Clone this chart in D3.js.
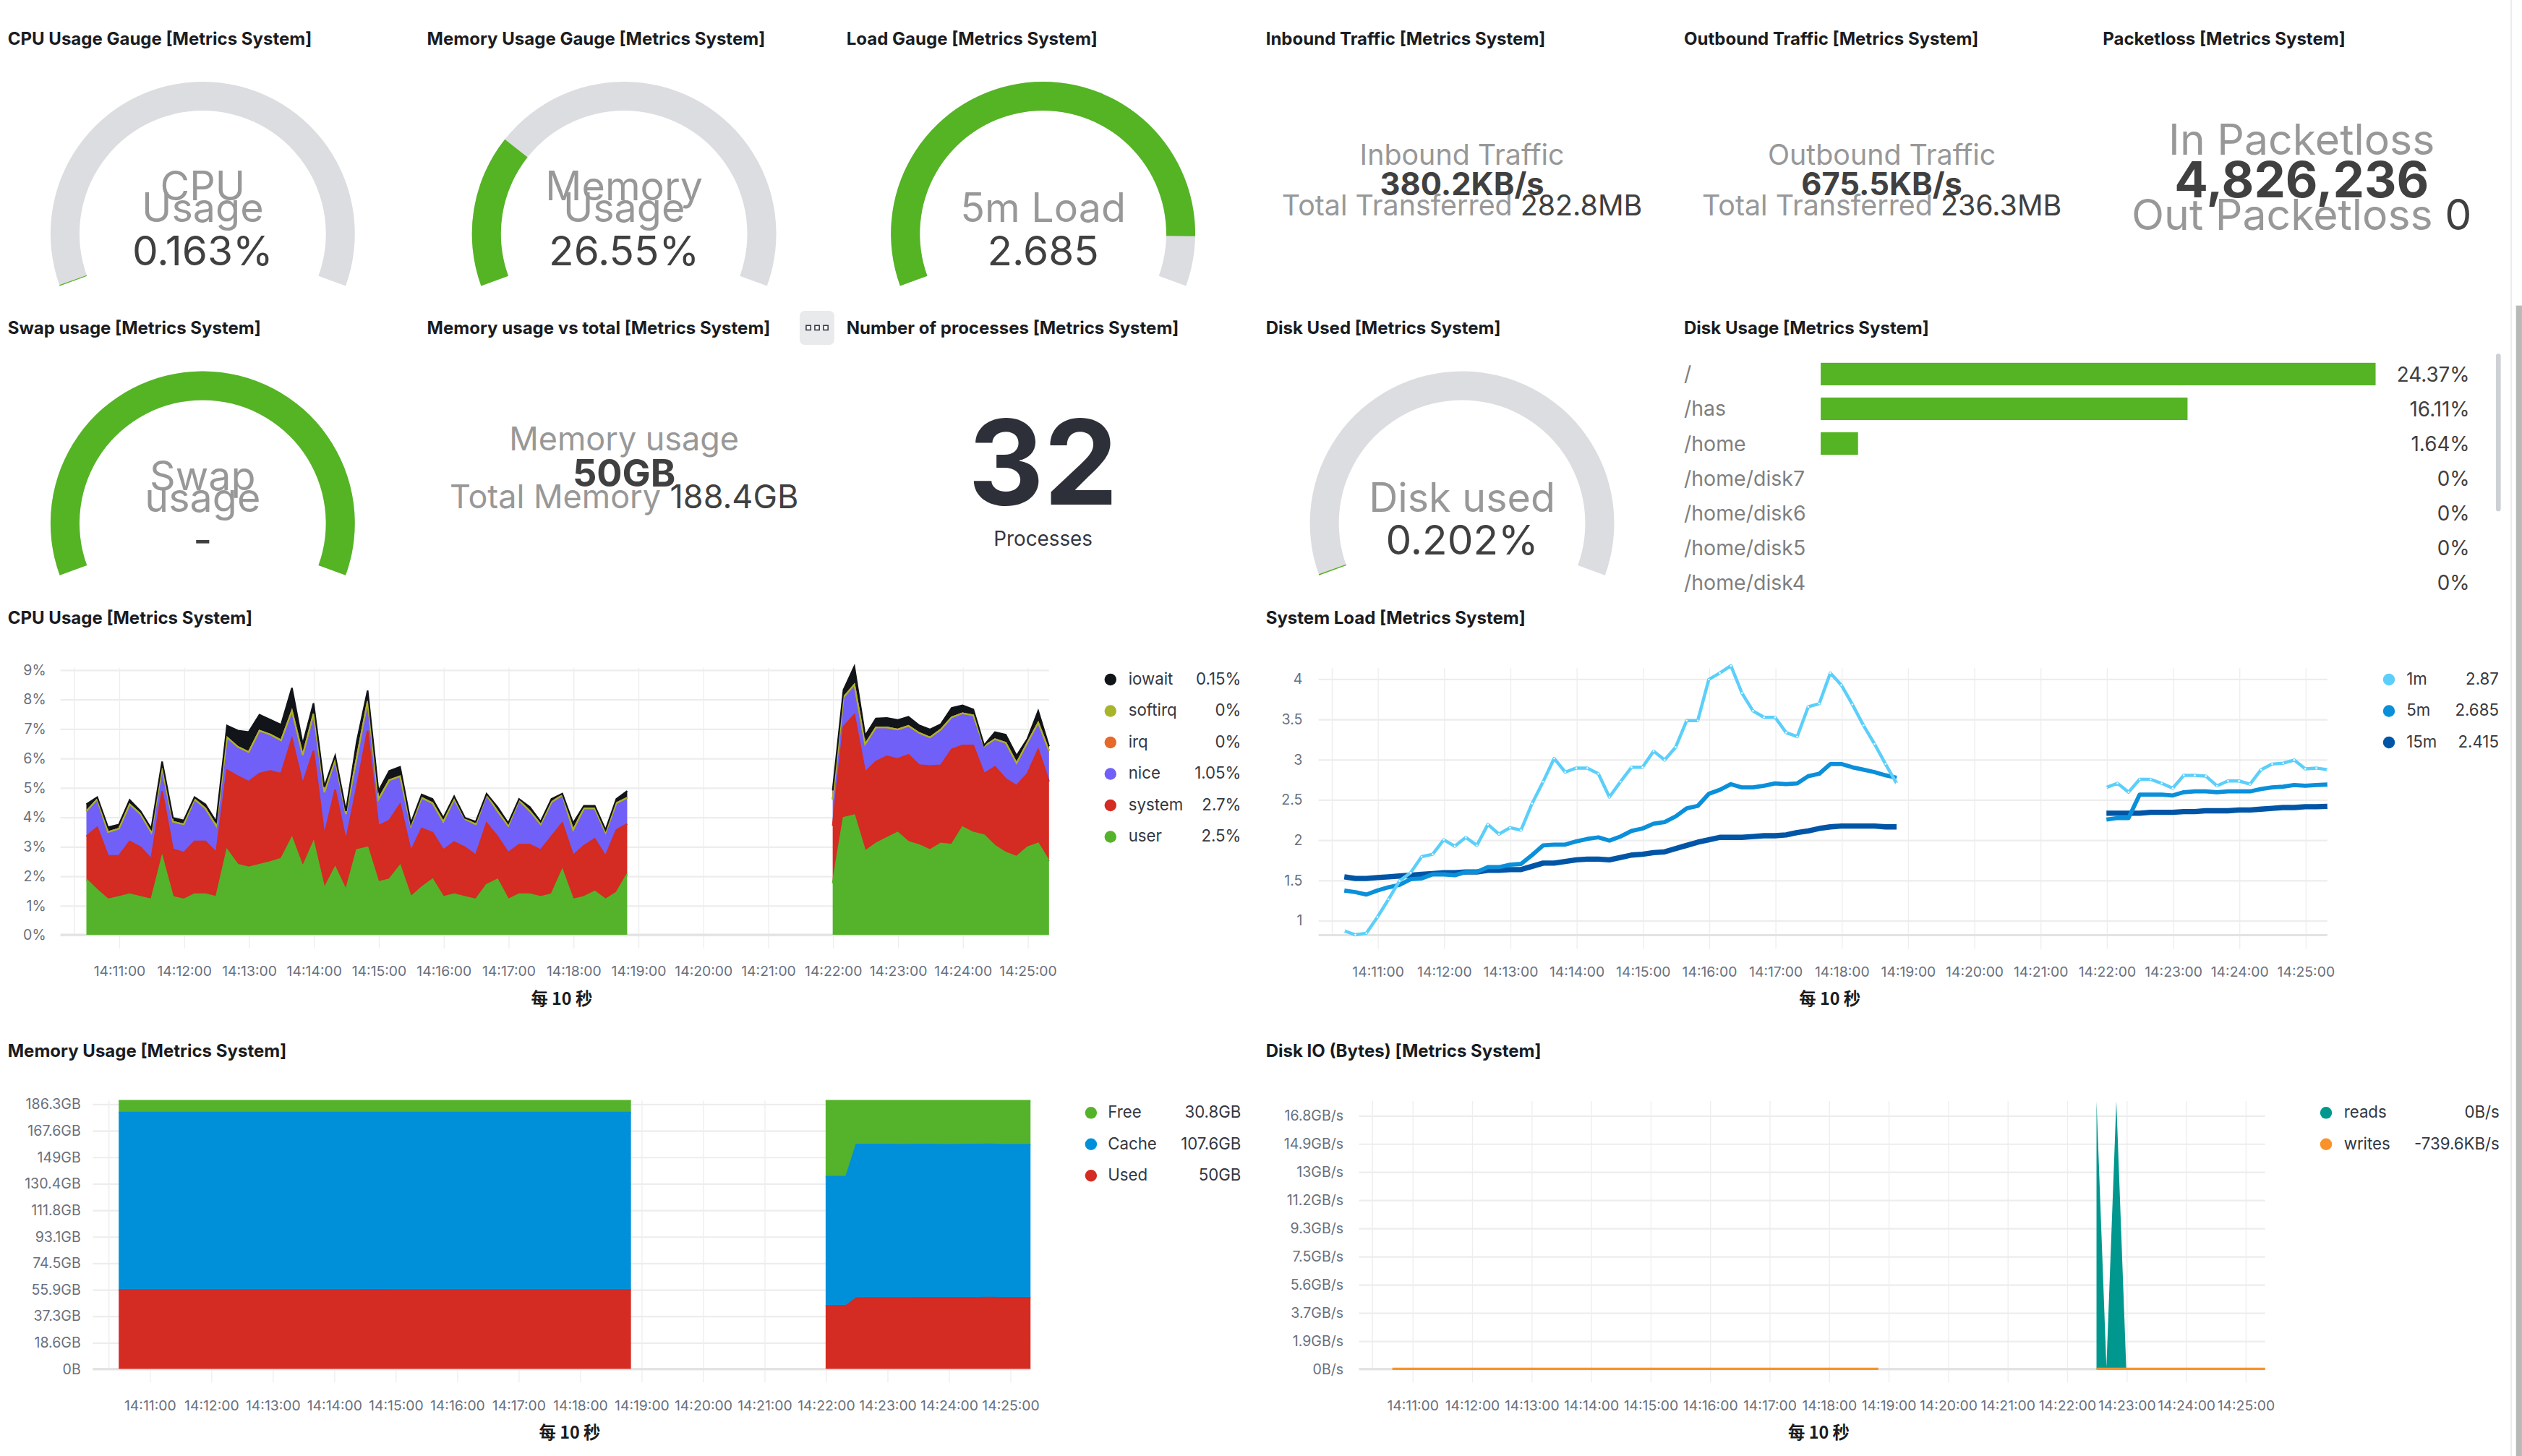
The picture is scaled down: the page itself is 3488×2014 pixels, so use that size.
<!DOCTYPE html>
<html lang="en">
<head>
<meta charset="utf-8" />
<title>Metrics System</title>
<script src="https://cdn.jsdelivr.net/npm/d3@7/dist/d3.min.js"></script>
<style>
  body { margin: 0; background: #fff; overflow: hidden; }
  svg text { font-family: Inter, "Noto Sans", sans-serif; }
</style>
</head>
<body>
<script>
// ---------- DATA ----------
var panelTitles = [
  "CPU Usage Gauge [Metrics System]", "Memory Usage Gauge [Metrics System]", "Load Gauge [Metrics System]",
  "Inbound Traffic [Metrics System]", "Outbound Traffic [Metrics System]", "Packetloss [Metrics System]",
  "Swap usage [Metrics System]", "Memory usage vs total [Metrics System]", "Number of processes [Metrics System]",
  "Disk Used [Metrics System]", "Disk Usage [Metrics System]",
  "CPU Usage [Metrics System]", "System Load [Metrics System]",
  "Memory Usage [Metrics System]", "Disk IO (Bytes) [Metrics System]"
];

// gauges: cpu, memory, load, swap, disk used
var gaugeLabels = [["CPU", "Usage"], ["Memory", "Usage"], ["5m Load"], ["Swap", "usage"], ["Disk used"]];
var gaugeValues = [0.163, 26.55, 2.685, 100, 0.202];   // swap has no value but is drawn full
var gaugeMax    = [100, 100, 2.94, 100, 100];
var gaugeText   = ["0.163%", "26.55%", "2.685", "-", "0.202%"];

// metric panels: inbound, outbound, packetloss, memory vs total
var metricLabels    = ["Inbound Traffic", "Outbound Traffic", "In Packetloss", "Memory usage"];
var metricValues    = ["380.2KB/s", "675.5KB/s", "4,826,236", "50GB"];
var metricSubLabels = ["Total Transferred", "Total Transferred", "Out Packetloss", "Total Memory"];
var metricSubValues = ["282.8MB", "236.3MB", "0", "188.4GB"];

var processCount = "32";
var processLabel = "Processes";

var diskMounts  = ["/", "/has", "/home", "/home/disk7", "/home/disk6", "/home/disk5", "/home/disk4"];
var diskUsedPct = [24.37, 16.11, 1.64, 0, 0, 0, 0];
var diskUsedText = ["24.37%", "16.11%", "1.64%", "0%", "0%", "0%", "0%"];

// time series, one point every 10 s, two segments with a gap
var tsSegments = [{ start: "14:10:30", n: 51 }, { start: "14:22:00", n: 21 }];
var ioSegments = [{ start: "14:10:40", n: 50 }, { start: "14:22:30", n: 18 }];
var xTickStart = "14:11:00", xTickEnd = "14:25:00";
var axisTitle = "每 10 秒";

// CPU usage (%)
var cpuUser = [1.88,1.52,1.2,1.29,1.38,1.29,1.2,2.65,1.29,1.2,1.38,1.38,1.29,2.88,2.38,2.29,2.38,2.47,2.58,3.29,2.31,3.15,1.58,2.29,1.52,2.88,2.97,1.79,1.88,2.35,1.29,1.61,1.88,1.29,1.38,1.29,1.2,1.7,1.88,1.2,1.38,1.38,1.29,1.38,2.2,1.2,1.29,1.47,1.2,1.43,2.06,
  1.75,3.97,4.06,2.84,3.1,3.29,3.47,3.15,3.04,2.88,3.1,3.06,3.65,3.47,3.38,3.02,2.79,2.65,2.97,3.1,2.5];
var cpuSystem = [1.46,2.13,1.48,1.39,1.79,1.68,1.38,2.23,1.61,1.59,1.79,1.79,1.5,2.71,3.0,2.91,3.09,3.09,2.89,3.36,2.82,3.1,1.8,2.64,1.68,2.14,3.96,1.91,2.0,2.08,1.55,2.0,1.59,1.59,1.77,1.68,1.5,2.09,1.46,1.59,1.68,1.68,1.59,1.96,1.59,1.5,1.73,1.79,1.47,2.13,1.7,
  1.95,3.09,3.41,2.68,2.78,2.77,2.5,2.96,2.72,2.85,2.65,3.23,2.78,2.96,2.09,2.68,2.5,2.41,2.5,3.19,2.7];
var cpuNice = [0.86,0.95,0.81,0.92,1.26,1.13,0.89,0.77,0.94,0.96,1.43,1.12,0.91,1.11,1.0,1.0,1.46,1.24,1.13,0.95,0.97,1.25,1.46,1.0,0.9,1.0,1.0,0.9,1.37,0.95,0.86,1.04,1.0,0.96,1.45,0.96,1.05,0.96,0.86,0.91,1.5,1.14,0.87,1.16,0.96,0.86,1.27,1.03,0.8,0.91,0.89,
  0.9,1.0,1.02,0.95,1.16,0.98,1.0,0.98,1.09,0.97,1.22,1.09,1.09,1.02,0.93,0.94,1.23,0.77,1.05,0.91,1.05];
var cpuIrq = [0,0,0,0,0,0,0,0,0,0,0,0,0,0,0,0,0,0,0,0,0,0,0,0,0,0,0,0,0,0,0,0,0,0,0,0,0,0,0,0,0,0,0,0,0,0,0,0,0,0,0,
  0,0,0,0,0,0,0,0,0,0,0,0,0,0,0,0,0,0,0,0,0];
var cpuSoftirq = [0,0,0,0,0,0,0,0,0,0,0,0,0,0,0,0,0,0,0,0,0,0,0,0,0,0,0,0,0,0,0,0,0,0,0,0,0,0,0,0,0,0,0,0,0,0,0,0,0,0,0,
  0,0,0,0,0,0,0,0,0,0,0,0,0,0,0,0,0,0,0,0,0];
var cpuIowait = [0.23,0.07,0.16,0.14,0.15,0.1,0.13,0.23,0.13,0.13,0.07,0.14,0.14,0.4,0.55,0.68,0.54,0.5,0.53,0.78,0.37,0.36,0.18,0.15,0.1,0.54,0.36,0.28,0.31,0.32,0.09,0.11,0.14,0.13,0.1,0.04,0.09,0.04,0.14,0.09,0.05,0.14,0.09,0.11,0.04,0.23,0.09,0.09,0.09,0.14,0.23,
  0.3,0.25,0.62,0.29,0.3,0.32,0.32,0.31,0.26,0.27,0.18,0.32,0.27,0.2,0.03,0.24,0.27,0.25,0.13,0.4,0.15];
var cpuTickLabels = ["0%", "1%", "2%", "3%", "4%", "5%", "6%", "7%", "8%", "9%"];
var cpuLegendNames  = ["iowait", "softirq", "irq", "nice", "system", "user"];
var cpuLegendValues = ["0.15%", "0%", "0%", "1.05%", "2.7%", "2.5%"];

// system load
var load1m = [0.87,0.82,0.84,1.04,1.26,1.49,1.59,1.79,1.82,2.0,1.92,2.03,1.93,2.19,2.07,2.15,2.12,2.45,2.72,3.01,2.84,2.89,2.89,2.82,2.53,2.72,2.9,2.9,3.1,2.99,3.15,3.48,3.48,3.99,4.07,4.16,3.82,3.6,3.52,3.52,3.33,3.28,3.65,3.69,4.07,3.92,3.68,3.42,3.19,2.94,2.7,
  2.65,2.7,2.59,2.75,2.75,2.7,2.64,2.8,2.8,2.79,2.67,2.73,2.73,2.69,2.87,2.94,2.95,2.99,2.88,2.89,2.87];
var load5m = [1.37,1.35,1.32,1.37,1.41,1.44,1.51,1.52,1.57,1.57,1.56,1.6,1.6,1.66,1.66,1.69,1.7,1.81,1.93,1.94,1.94,1.98,2.01,2.03,1.99,2.04,2.11,2.14,2.2,2.22,2.29,2.39,2.42,2.57,2.62,2.69,2.65,2.65,2.67,2.7,2.69,2.7,2.79,2.82,2.94,2.94,2.9,2.87,2.84,2.8,2.77,
  2.25,2.27,2.27,2.56,2.56,2.56,2.55,2.59,2.6,2.6,2.59,2.6,2.6,2.6,2.63,2.65,2.66,2.68,2.67,2.68,2.685];
var load15m = [1.54,1.52,1.52,1.53,1.54,1.55,1.56,1.57,1.58,1.59,1.59,1.6,1.6,1.62,1.62,1.63,1.63,1.67,1.71,1.71,1.73,1.75,1.76,1.76,1.75,1.78,1.81,1.82,1.84,1.85,1.89,1.93,1.97,2.0,2.03,2.03,2.03,2.04,2.05,2.05,2.06,2.09,2.11,2.14,2.16,2.17,2.17,2.17,2.17,2.16,2.16,
  2.33,2.33,2.33,2.33,2.34,2.34,2.34,2.35,2.35,2.36,2.36,2.36,2.37,2.37,2.38,2.39,2.4,2.4,2.41,2.41,2.415];
var loadTicks = [1, 1.5, 2, 2.5, 3, 3.5, 4];
var loadTickLabels = ["1", "1.5", "2", "2.5", "3", "3.5", "4"];
var loadLegendNames  = ["1m", "5m", "15m"];
var loadLegendValues = ["2.87", "2.685", "2.415"];

// memory usage (GiB)
var memUsed = [55.4,55.4,55.4,55.4,55.4,55.4,55.4,55.4,55.4,55.4,55.4,55.4,55.4,55.4,55.4,55.4,55.4,55.4,55.4,55.4,55.4,55.4,55.4,55.4,55.6,55.5,55.6,55.4,55.4,55.4,55.4,55.4,55.4,55.4,55.4,55.4,55.4,55.4,55.4,55.4,55.4,55.4,55.4,55.4,55.4,55.4,55.4,55.4,55.4,55.4,55.4,
  44.4,44.4,44.4,49.7,49.8,49.8,49.8,49.8,49.8,49.9,49.9,49.9,49.9,49.9,50,50,50.1,50,50,50,50];
var memCache = [124.7,124.7,124.7,124.7,124.7,124.7,124.7,124.7,124.7,124.7,124.7,124.7,124.7,124.7,124.7,124.7,124.7,124.7,124.7,124.7,124.7,124.7,124.7,124.7,124.6,124.6,124.6,124.7,124.7,124.7,124.7,124.7,124.7,124.7,124.7,124.7,124.7,124.7,124.7,124.7,124.7,124.7,124.7,124.7,124.7,124.7,124.7,124.7,124.7,124.7,124.7,
  90.7,90.7,90.7,108,107.9,107.9,107.9,107.8,107.8,107.8,107.8,107.7,107.7,107.7,107.7,107.7,107.7,107.6,107.6,107.6,107.6];
var memFree = [8.3,8.3,8.3,8.3,8.3,8.3,8.3,8.3,8.3,8.3,8.3,8.3,8.3,8.3,8.3,8.3,8.3,8.3,8.3,8.3,8.3,8.3,8.3,8.3,8.2,8.3,8.2,8.3,8.3,8.3,8.3,8.3,8.3,8.3,8.3,8.3,8.3,8.3,8.3,8.3,8.3,8.3,8.3,8.3,8.3,8.3,8.3,8.3,8.3,8.3,8.3,
  53.3,53.3,53.3,30.7,30.7,30.7,30.7,30.8,30.8,30.7,30.7,30.8,30.8,30.8,30.7,30.7,30.6,30.8,30.8,30.8,30.8];
var memTickLabels = ["0B", "18.6GB", "37.3GB", "55.9GB", "74.5GB", "93.1GB", "111.8GB", "130.4GB", "149GB", "167.6GB", "186.3GB"];
var memLegendNames  = ["Free", "Cache", "Used"];
var memLegendValues = ["30.8GB", "107.6GB", "50GB"];

// disk IO (GiB/s)
var ioReads = [0,0,0,0,0,0,0,0,0,0,0,0,0,0,0,0,0,0,0,0,0,0,0,0,0,0,0,0,0,0,0,0,0,0,0,0,0,0,0,0,0,0,0,0,0,0,0,0,0,0,
  17.7,0.1,17.7,0,0,0,0,0,0,0,0,0,0,0,0,0,0,0];
var ioWritesKB = [-739.6,-739.6,-739.6,-739.6,-739.6,-739.6,-739.6,-739.6,-739.6,-739.6,-739.6,-739.6,-739.6,-739.6,-739.6,-739.6,-739.6,-739.6,-739.6,-739.6,-739.6,-739.6,-739.6,-739.6,-739.6,-739.6,-739.6,-739.6,-739.6,-739.6,-739.6,-739.6,-739.6,-739.6,-739.6,-739.6,-739.6,-739.6,-739.6,-739.6,-739.6,-739.6,-739.6,-739.6,-739.6,-739.6,-739.6,-739.6,-739.6,-739.6,
  -739.6,-739.6,-739.6,-739.6,-739.6,-739.6,-739.6,-739.6,-739.6,-739.6,-739.6,-739.6,-739.6,-739.6,-739.6,-739.6,-739.6,-739.6];
var ioTickLabels = ["0B/s", "1.9GB/s", "3.7GB/s", "5.6GB/s", "7.5GB/s", "9.3GB/s", "11.2GB/s", "13GB/s", "14.9GB/s", "16.8GB/s"];
var ioLegendNames  = ["reads", "writes"];
var ioLegendValues = ["0B/s", "-739.6KB/s"];

// ---------- STYLE / LAYOUT ----------
var W = 1568, H = 905.4;
var green = "#54b424", track = "#dcdde0";
var labelGray = "#989898", valueDark = "#404040", legendText = "#343741", axisText = "#69707d";
var cpuColors = { user: "#54b32b", system: "#d42b22", nice: "#7060f8", irq: "#e7692a", softirq: "#a8b52a", iowait: "#111418" };
var loadColors = ["#5bcffa", "#0a8fdb", "#0155a6"];
var memColors = { free: "#54b32b", cache: "#0090d9", used: "#d42b22" };
var ioColors = { reads: "#00978f", writes: "#f99229" };

var colX = [4.8, 265.5, 526.3, 787, 1047, 1307.4];
var colC = [126, 388, 648.5, 909, 1170, 1431];
var titleY = [27.7, 207.8, 387.8, 657.4];
var titleSlots = [[0,0],[1,0],[2,0],[3,0],[4,0],[5,0],[0,1],[1,1],[2,1],[3,1],[4,1],[0,2],[3,2],[0,3],[3,3]];

var svg = d3.select("body").append("svg")
  .attr("width", 3488).attr("height", 2014)
  .attr("viewBox", `0 0 ${W} ${H}`);

var parseT = d3.timeParse("%H:%M:%S");
var fmtT = d3.timeFormat("%H:%M:%S");
var minuteTicks = d3.timeMinute.range(parseT(xTickStart), d3.timeSecond.offset(parseT(xTickEnd), 1));

// panel titles
svg.append("g").selectAll("text")
  .data(panelTitles).join("text")
  .attr("x", (d, i) => colX[titleSlots[i][0]])
  .attr("y", (d, i) => titleY[titleSlots[i][1]])
  .attr("font-size", 10.8).attr("font-weight", 700).attr("fill", "#1a1c21")
  .text(d => d);

// options button next to "Number of processes"
var btn = svg.append("g");
btn.append("rect").attr("x", 497.2).attr("y", 193.3).attr("width", 21.5).attr("height", 21.1)
  .attr("rx", 3).attr("fill", "#e9eaec");
[502.6, 508, 513.4].forEach(function (cx) {
  btn.append("rect").attr("x", cx - 1.4).attr("y", 202.4).attr("width", 2.8).attr("height", 2.8)
    .attr("fill", "#fff").attr("stroke", "#343741").attr("stroke-width", 0.7);
});

// ---------- GAUGES ----------
var sweep = 110 * Math.PI / 180;
var gaugeArc = d3.arc().innerRadius(76.6).outerRadius(94.6);
var gaugePos = [[colC[0], 145.4], [colC[1], 145.4], [colC[2], 145.4], [colC[0], 325.4], [colC[3], 325.4]];

gaugeValues.forEach(function (v, i) {
  var g = svg.append("g").attr("transform", `translate(${gaugePos[i][0]},${gaugePos[i][1]})`);
  var a = d3.scaleLinear().domain([0, gaugeMax[i]]).range([-sweep, sweep]).clamp(true);
  g.append("path").attr("fill", track)
    .attr("d", gaugeArc({ startAngle: -sweep, endAngle: sweep }));
  g.append("path").attr("fill", green)
    .attr("d", gaugeArc({ startAngle: -sweep, endAngle: a(v) }));
  var lines = gaugeLabels[i];
  lines.forEach(function (t, j) {
    g.append("text").attr("text-anchor", "middle")
      .attr("y", -7.2 - (lines.length - 1 - j) * 13.6)
      .attr("font-size", 25).attr("fill", labelGray).text(t);
  });
  g.append("text").attr("text-anchor", "middle").attr("y", 19.6)
    .attr("font-size", 25.5).attr("fill", valueDark).text(gaugeText[i]);
});

// ---------- METRICS ----------
// cx, label baseline, value baseline, sub baseline, label size, value size
var metricLayout = [
  [colC[3], 102.7, 121.4, 133.8, 17.7, 19.5],
  [colC[4], 102.7, 121.4, 133.8, 17.7, 19.5],
  [colC[5], 96.0, 122.9, 143.0, 26.5, 31],
  [colC[1], 280.0, 302.6, 316.0, 20.2, 23.5]
];
metricLabels.forEach(function (lab, i) {
  var m = metricLayout[i];
  var g = svg.append("g").attr("text-anchor", "middle");
  g.append("text").attr("x", m[0]).attr("y", m[1]).attr("font-size", m[4]).attr("fill", labelGray).text(lab);
  g.append("text").attr("x", m[0]).attr("y", m[2]).attr("font-size", m[5]).attr("font-weight", 700)
    .attr("fill", valueDark).text(metricValues[i]);
  var sub = g.append("text").attr("x", m[0]).attr("y", m[3]).attr("font-size", m[4]);
  sub.append("tspan").attr("fill", labelGray).text(metricSubLabels[i] + " ");
  sub.append("tspan").attr("fill", valueDark).text(metricSubValues[i]);
});

// number of processes
svg.append("text").attr("x", colC[2]).attr("y", 313.8).attr("text-anchor", "middle")
  .attr("font-size", 73).attr("font-weight", 700).attr("fill", "#2d3038").text(processCount);
svg.append("text").attr("x", colC[2]).attr("y", 339.4).attr("text-anchor", "middle")
  .attr("font-size", 12.5).attr("fill", legendText).text(processLabel);

// ---------- DISK USAGE BAR LIST ----------
var barX = d3.scaleLinear().domain([0, d3.max(diskUsedPct)]).range([0, 345]);
var rowY = d3.scaleLinear().domain([0, 1]).range([232.6, 254.2]);
var bars = svg.append("g");
bars.selectAll("rect.bar").data(diskUsedPct).join("rect").attr("class", "bar")
  .attr("x", 1132).attr("y", (d, i) => rowY(i) - 7).attr("height", 14)
  .attr("width", d => barX(d)).attr("fill", green);
bars.selectAll("text.mount").data(diskMounts).join("text").attr("class", "mount")
  .attr("x", 1047).attr("y", (d, i) => rowY(i) + 4.5)
  .attr("font-size", 12.8).attr("fill", "#7f7f7f").text(d => d);
bars.selectAll("text.pct").data(diskUsedText).join("text").attr("class", "pct")
  .attr("x", 1535.5).attr("y", (d, i) => rowY(i) + 4.8).attr("text-anchor", "end")
  .attr("font-size", 12.5).attr("fill", valueDark).text(d => d);
bars.append("rect").attr("x", 1551.8).attr("y", 220).attr("width", 3).attr("height", 98)
  .attr("rx", 1.5).attr("fill", "#cdd0d4");

// ---------- TIME SERIES ----------
function segmentRows(segs, series) {
  var off = 0;
  return segs.map(function (s) {
    var t0 = parseT(s.start);
    var rows = d3.range(s.n).map(function (i) {
      var r = { t: d3.timeSecond.offset(t0, 10 * i) };
      Object.keys(series).forEach(function (k) { r[k] = series[k][off + i]; });
      return r;
    });
    off += s.n;
    return rows;
  });
}

function frame(o) {
  var g = svg.append("g");
  var base = o.y(o.y.domain()[0]);
  var top = o.y(o.y.domain()[1]);
  var right = o.x.range()[1];
  // vertical grid + time labels
  var ax = d3.axisBottom(o.x).tickValues(minuteTicks).tickFormat(fmtT)
    .tickSizeInner(-(base + 8.5 - top)).tickSizeOuter(0).tickPadding(11.1);
  g.append("g").attr("transform", `translate(0,${base + 8.5})`).call(ax)
    .attr("font-family", "Inter").attr("font-size", 8.7)
    .call(s => s.select(".domain").remove())
    .call(s => s.selectAll(".tick line").attr("stroke", "#eeeeee").attr("stroke-width", 0.6))
    .call(s => s.selectAll(".tick text").attr("fill", axisText));
  // horizontal grid + value labels
  var ay = d3.axisLeft(o.y).tickValues(o.yVals).tickFormat((d, i) => o.yLabels[i])
    .tickSizeInner(-(right - o.gridX)).tickSizeOuter(0).tickPadding(o.yPad);
  g.append("g").attr("transform", `translate(${o.gridX},0)`).call(ay)
    .attr("font-family", "Inter").attr("font-size", 8.8)
    .call(s => s.select(".domain").remove())
    .call(s => s.selectAll(".tick line").attr("stroke", "#ededed").attr("stroke-width", 1))
    .call(s => s.selectAll(".tick text").attr("fill", axisText));
  // left edge and base line
  g.append("line").attr("x1", o.axisX).attr("x2", o.axisX).attr("y1", top).attr("y2", base)
    .attr("stroke", "#eeeeee").attr("stroke-width", 0.7);
  g.append("line").attr("x1", o.gridX).attr("x2", right).attr("y1", base).attr("y2", base)
    .attr("stroke", "#e3e3e3").attr("stroke-width", 1.3);
  // axis title
  svg.append("text").attr("x", (o.axisX + right) / 2).attr("y", base + 43.6)
    .attr("text-anchor", "middle").attr("font-size", 10.5).attr("font-weight", 700)
    .attr("fill", "#1a1c21").style("font-family", "'Noto Sans CJK SC', sans-serif").text(axisTitle);
  return g;
}

function legend(names, values, colors, dotX, labelX, valueX, y0) {
  var g = svg.append("g");
  names.forEach(function (n, i) {
    var y = y0 + i * 19.55;
    g.append("circle").attr("cx", dotX).attr("cy", y).attr("r", 3.7).attr("fill", colors[i]);
    g.append("text").attr("x", labelX).attr("y", y + 3.1).attr("font-size", 10).attr("fill", legendText).text(n);
    g.append("text").attr("x", valueX).attr("y", y + 3.1).attr("text-anchor", "end")
      .attr("font-size", 10).attr("fill", legendText).text(values[i]);
  });
}

var tDomain = [parseT("14:10:30"), parseT("14:25:20")];

// CPU usage
var cpuX = d3.scaleTime().domain(tDomain).range([53.7, 652.2]);
var cpuY = d3.scaleLinear().domain([0, 9.06]).range([581.3, 415.3]);
frame({ x: cpuX, y: cpuY, gridX: 37.6, axisX: 46.2, yPad: 9, yVals: d3.range(0, 10), yLabels: cpuTickLabels });
var cpuKeys = ["user", "system", "nice", "irq", "softirq", "iowait"];
var cpuStack = d3.stack().keys(cpuKeys);
segmentRows(tsSegments, { user: cpuUser, system: cpuSystem, nice: cpuNice, irq: cpuIrq, softirq: cpuSoftirq, iowait: cpuIowait })
  .forEach(function (rows) {
    var layers = cpuStack(rows);
    var area = d3.area().x(d => cpuX(d.data.t)).y0(d => cpuY(d[0])).y1(d => cpuY(d[1]));
    var top = d3.line().x(d => cpuX(d.data.t)).y(d => cpuY(d[1]));
    layers.forEach(function (l) {
      svg.append("path").attr("d", area(l)).attr("fill", cpuColors[l.key]);
    });
    layers.forEach(function (l) {
      svg.append("path").attr("d", top(l)).attr("fill", "none")
        .attr("stroke", cpuColors[l.key]).attr("stroke-width", 1);
    });
  });
legend(cpuLegendNames, cpuLegendValues, cpuLegendNames.map(k => cpuColors[k]), 690.4, 701.6, 771.6, 422.6);

// system load
var loadX = d3.scaleTime().domain(tDomain).range([835.8, 1447]);
var loadY = d3.scaleLinear().domain([0.816, 4.13]).range([581.5, 415.5]);
frame({ x: loadX, y: loadY, gridX: 819.8, axisX: 828.3, yPad: 10, yVals: loadTicks, yLabels: loadTickLabels });
var loadWidths = [2, 2.6, 3.3];
var loadRows = segmentRows(tsSegments, { m1: load1m, m5: load5m, m15: load15m });
["m15", "m5", "m1"].forEach(function (k) {
  var idx = { m1: 0, m5: 1, m15: 2 }[k];
  var line = d3.line().x(d => loadX(d.t)).y(d => loadY(d[k]));
  loadRows.forEach(function (rows) {
    svg.append("path").attr("d", line(rows)).attr("fill", "none")
      .attr("stroke", loadColors[idx]).attr("stroke-width", loadWidths[idx]).attr("stroke-linejoin", "round");
    if (k === "m1") {
      svg.append("g").selectAll("circle").data(rows).join("circle")
        .attr("cx", d => loadX(d.t)).attr("cy", d => loadY(d.m1)).attr("r", 0.55).attr("fill", "#fff");
    }
  });
});
legend(loadLegendNames, loadLegendValues, loadColors, 1485.3, 1496.2, 1553.6, 422.6);

// memory usage
var memX = d3.scaleTime().domain(tDomain).range([73.8, 640.7]);
var memY = d3.scaleLinear().domain([0, 188.4]).range([851.2, 684.5]);
var memStep = 20e9 / Math.pow(2, 30);
frame({ x: memX, y: memY, gridX: 57.7, axisX: 67.7, yPad: 7.5, yVals: memTickLabels.map((d, i) => i * memStep), yLabels: memTickLabels });
var memKeys = ["used", "cache", "free"];
var memStack = d3.stack().keys(memKeys);
segmentRows(tsSegments, { used: memUsed, cache: memCache, free: memFree }).forEach(function (rows) {
  var layers = memStack(rows);
  var area = d3.area().x(d => memX(d.data.t)).y0(d => memY(d[0])).y1(d => memY(d[1]));
  var top = d3.line().x(d => memX(d.data.t)).y(d => memY(d[1]));
  layers.forEach(function (l) {
    svg.append("path").attr("d", area(l)).attr("fill", memColors[l.key]);
  });
  layers.forEach(function (l) {
    svg.append("path").attr("d", top(l)).attr("fill", "none").attr("stroke", memColors[l.key]).attr("stroke-width", 1);
  });
});
legend(memLegendNames, memLegendValues, [memColors.free, memColors.cache, memColors.used], 678.3, 688.8, 771.6, 692);

// disk IO
var ioX = d3.scaleTime().domain(tDomain).range([859.5, 1408.3]);
var ioY = d3.scaleLinear().domain([0, 17.7]).range([851.2, 684.7]);
var ioStep = 2e9 / Math.pow(2, 30);
frame({ x: ioX, y: ioY, gridX: 844.9, axisX: 853.3, yPad: 9.6, yVals: ioTickLabels.map((d, i) => i * ioStep), yLabels: ioTickLabels });
segmentRows(ioSegments, { reads: ioReads, writes: ioWritesKB }).forEach(function (rows) {
  var area = d3.area().x(d => ioX(d.t)).y0(ioY(0)).y1(d => ioY(d.reads));
  svg.append("path").attr("d", area(rows)).attr("fill", ioColors.reads);
  var wl = d3.line().x(d => ioX(d.t)).y(d => ioY(d.writes / Math.pow(1024, 2)));
  svg.append("path").attr("d", wl(rows)).attr("fill", "none").attr("stroke", ioColors.writes).attr("stroke-width", 1.5);
});
legend(ioLegendNames, ioLegendValues, [ioColors.reads, ioColors.writes], 1446.2, 1457.3, 1554, 692);

// page scrollbar on the right
svg.append("line").attr("x1", 1561.3).attr("x2", 1561.3).attr("y1", 0).attr("y2", H)
  .attr("stroke", "#e4e4e4").attr("stroke-width", 0.6);
svg.append("rect").attr("x", 1564.3).attr("y", 190).attr("width", 3.7).attr("height", H - 190)
  .attr("fill", "#b9b9b9");
</script>
</body>
</html>
